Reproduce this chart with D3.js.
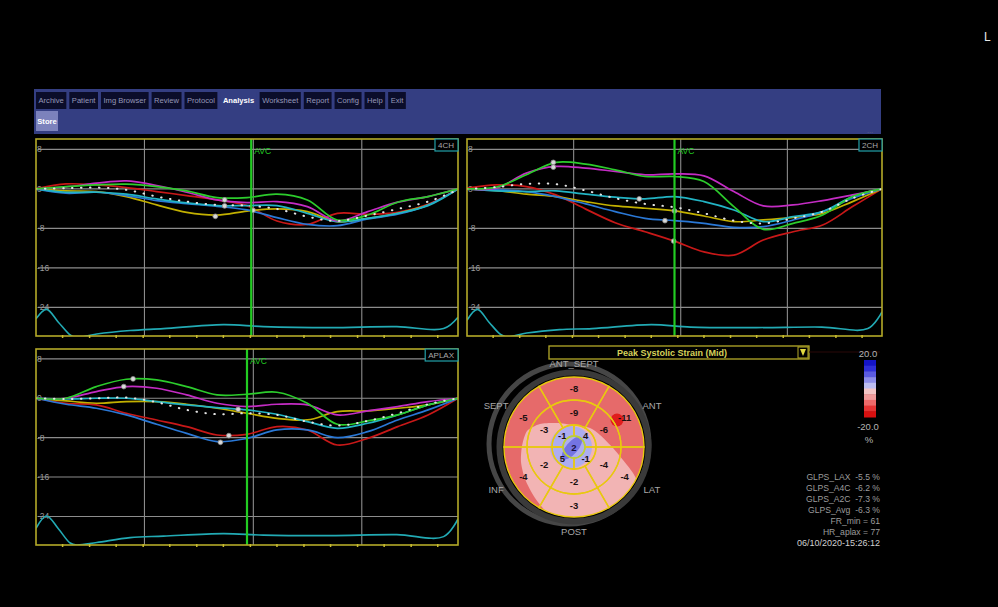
<!DOCTYPE html>
<html><head><meta charset="utf-8">
<script src="https://cdn.jsdelivr.net/npm/d3@7"></script>
<style>body{margin:0;background:#000;overflow:hidden} svg{display:block}</style>
</head><body><svg id="c" width="998" height="607"></svg>
<script>
// ---------- DATA ----------
const tabLabels = ["Archive","Patient","Img Browser","Review","Protocol","Analysis","Worksheet","Report","Config","Help","Exit"];
const activeTab = "Analysis";
const yTicks = [8, 0, -8, -16, -24];
const yTickLabels = ["8", "0", "-8", "-16", "-24"];
const gridTimes = [0.257, 0.515, 0.772];
const tickTimes = [0.063,0.127,0.19,0.254,0.317,0.381,0.444,0.508,0.571,0.635,0.698,0.762,0.825,0.889,0.952];
const timeGrid = [0,0.071,0.143,0.214,0.286,0.357,0.429,0.5,0.571,0.643,0.714,0.786,0.857,0.929,1];
const traceTimes = [0,0.025,0.053,0.081,0.096,0.144,0.223,0.302,0.444,0.539,0.697,0.855,0.966,1];

// 4CH
const ch4Red     = [0,1.0,0.8,0.27,-0.54,-1.36,-2.24,-3.4,-6.5,-7.2,-4.95,-5.15,-4.75,-3.1,0];
const ch4Yellow  = [0,-0.4,-0.54,-1.56,-3.25,-4.75,-5.3,-4.5,-4.07,-4.6,-6.64,-5.97,-4.95,-3.25,0];
const ch4Green   = [0,0.47,0.81,0.95,0.47,-0.41,-1.76,-1.76,-1.08,-2.24,-6.3,-5.3,-2.7,-1.56,0];
const ch4Magenta = [0,0.4,1.15,1.63,0.68,-0.68,-2.24,-2.78,-2.58,-3.6,-6.5,-4.6,-2.7,-1.56,0];
const ch4Cyan    = [0,-0.68,-0.68,-1.08,-2.03,-2.85,-3.39,-3.39,-3.39,-4.95,-6.64,-5.97,-4.95,-3.39,0];
const ch4Blue    = [0,-0.88,-0.68,-1.36,-2.37,-2.98,-3.53,-4.27,-5.83,-7.19,-7.46,-6.1,-5.15,-3.25,0];
const ch4Avg     = [0,0.14,0.27,-0.2,-1.56,-2.58,-3.25,-3.39,-4.07,-5.63,-6.5,-5.4,-4.07,-2.58,-0.2];
const ch4Trace   = [-26.3,-24.4,-27.0,-29.6,-30.1,-29.4,-28.7,-28.3,-27.5,-27.9,-28.1,-27.9,-28.3,-26.0];
const ch4Markers = [[0.447,-2.24],[0.447,-3.46],[0.425,-5.56],[0.514,-4.34]];
const ch4Avc = 0.51;

// 2CH
const ch2Red     = [0.14,0.81,0.47,-1.22,-4.1,-6.85,-8.68,-10.58,-12.75,-13.42,-10.37,-8.68,-7.32,-3.59,0];
const ch2Yellow  = [0,-0.34,-1.08,-1.56,-2.58,-3.46,-3.93,-4.47,-5.5,-6.64,-6.3,-5.76,-4.95,-2.58,0];
const ch2Green   = [0,0.34,2.85,5.36,5.02,3.86,2.51,2.51,1.49,-3.59,-8.2,-6.98,-5.29,-1.56,0];
const ch2Magenta = [0,0.14,3.19,4.54,4.2,3.53,2.85,3.05,2.64,-0.54,-3.46,-3.25,-2.37,-1.22,0];
const ch2Cyan    = [0,-0.4,-0.54,-0.4,-1.08,-1.69,-2.03,-1.56,-2.58,-4.27,-6.64,-5.63,-4.61,-1.56,0];
const ch2Blue    = [0,-0.2,-0.54,-1.56,-3.05,-4.61,-5.97,-6.44,-6.98,-7.8,-7.66,-6.3,-4.61,-1.9,0];
const ch2Avg     = [0,0.34,1.02,0.95,-0.34,-1.9,-3.05,-3.73,-4.95,-6.44,-6.98,-5.97,-4.61,-1.9,0];
const ch2Trace   = [-26.6,-24.4,-27.0,-29.5,-30.0,-29.2,-28.5,-28.3,-27.5,-28.0,-28.1,-28.0,-28.3,-24.9];
const ch2Markers = [[0.208,5.36],[0.208,4.4],[0.415,-2.03],[0.477,-6.44],[0.5,-4.47],[0.498,-10.58]];
const ch2Avc = 0.5;

// APLAX
const lxRed      = [0,-1.02,-1.36,-3.05,-4.41,-5.76,-7.46,-7.32,-5.76,-6.44,-9.49,-8.14,-5.76,-3.39,0];
const lxYellow   = [0,-0.54,-1.02,-0.68,-0.68,-1.22,-2.03,-3.05,-4.07,-4.41,-2.71,-2.58,-2.03,-1.36,0];
const lxGreen    = [0,0,2.37,3.86,3.73,2.37,0.68,0.81,1.22,-1.02,-5.29,-4.61,-3.39,-1.36,0];
const lxMagenta  = [0,0,1.36,2.37,2.03,0.68,-1.02,-1.69,-1.22,-1.36,-3.39,-2.58,-1.69,-0.68,0];
const lxCyan     = [0,-0.14,0,0,-0.68,-1.36,-1.9,-2.37,-3.25,-4.75,-6.1,-5.08,-3.39,-1.36,0];
const lxBlue     = [0,-1.22,-2.03,-3.39,-5.29,-7.12,-8.81,-8.14,-6.44,-6.44,-8.0,-6.78,-4.41,-2.37,0];
const lxAvg      = [0,-0.14,0,0.14,-0.81,-2.37,-3.25,-3.05,-3.39,-4.75,-5.56,-4.61,-3.05,-1.22,0];
const lxTrace    = [-26.4,-23.9,-26.5,-29.4,-29.8,-29.3,-28.3,-28.0,-27.5,-27.8,-27.9,-27.7,-28.1,-24.5];
const lxMarkers  = [[0.23,3.93],[0.208,2.37],[0.457,-7.59],[0.437,-8.95],[0.479,-2.24]];
const lxAvc = 0.5;

// Bullseye (Peak Systolic Strain)
const segmentNames = ["ANT_SEPT","ANT","LAT","POST","INF","SEPT"];
const basalValues  = [-8,-11,-4,-3,-4,-5];
const midValues    = [-9,-6,-4,-2,-2,-3];
const apicalValues = [4,-1,5,-1];
const apexValue    = 2;
const colorbarColors = ["#1414c8","#2e2ed8","#5a5ae0","#8c8ce8","#bcbcf0","#f2c4c4","#f09a9a","#ec6a6a","#e43434","#d81010"];
const statLines = ["GLPS_LAX  -5.5 %","GLPS_A4C  -6.2 %","GLPS_A2C  -7.3 %","GLPS_Avg  -6.3 %","FR_min = 61","HR_aplax = 77"];
const timestamp = "06/10/2020-15:26:12";

// ---------- DRAW ----------
const svg = d3.select("#c");
svg.append("rect").attr("width",998).attr("height",607).attr("fill","#000");
svg.append("text").attr("x",984).attr("y",41).attr("fill","#e8e8e8")
  .attr("font-family","Liberation Sans, Arial").attr("font-size",12).text("L");

// header bar
const bar = svg.append("g");
bar.append("rect").attr("x",34).attr("y",89).attr("width",847).attr("height",45).attr("fill","#343e82");
let tx = 36;
tabLabels.forEach(lbl => {
  const g = bar.append("g");
  const t = g.append("text").attr("y",103).attr("font-family","Liberation Sans, Arial")
    .attr("font-size",7.6).attr("font-weight", lbl===activeTab?"bold":"normal")
    .attr("fill", lbl===activeTab?"#ffffff":"#9698b8").text(lbl);
  const w = t.node().getComputedTextLength();
  const bw = w + 5;
  g.insert("rect","text").attr("x",tx).attr("y",92).attr("width",bw).attr("height",17)
    .attr("fill", lbl===activeTab?"#343e82":"#0b0d2a");
  t.attr("x", tx + 2.5);
  tx += bw + 3;
});
bar.append("rect").attr("x",36).attr("y",111).attr("width",22).attr("height",20).attr("fill","#7c82bc");
bar.append("text").attr("x",47).attr("y",124).attr("text-anchor","middle").attr("font-family","Liberation Sans, Arial")
  .attr("font-size",7.6).attr("font-weight","bold").attr("fill","#fff").text("Store");

const seriesColors = {red:"#c81818", yellow:"#c2b000", green:"#2ccc2c", magenta:"#c42cc4", cyan:"#22b4c4", blue:"#2a78d6"};

function drawPanel(cfg){
  const x = d3.scaleLinear().domain([0,1]).range([cfg.x0,cfg.x1]);
  const y = d3.scaleLinear().domain(cfg.ydom).range([cfg.y0,cfg.y1]);
  const g = svg.append("g");
  const cid = "clip"+cfg.id;
  svg.append("defs").append("clipPath").attr("id",cid).append("rect")
    .attr("x",cfg.x0).attr("y",cfg.y0).attr("width",cfg.x1-cfg.x0).attr("height",cfg.y1-cfg.y0);
  g.selectAll(".hg").data(yTicks).join("line")
    .attr("x1",cfg.x0+2).attr("x2",cfg.x1).attr("y1",d=>y(d)).attr("y2",d=>y(d))
    .attr("stroke","#8c8c8c").attr("stroke-width",1.1);
  g.selectAll(".vg").data(gridTimes).join("line")
    .attr("x1",d=>x(d)).attr("x2",d=>x(d)).attr("y1",cfg.y0).attr("y2",cfg.y1)
    .attr("stroke","#8c8c8c").attr("stroke-width",1.1);
  g.selectAll(".yl").data(yTicks).join("text")
    .attr("x",cfg.x0+1).attr("y",d=>y(d)+3).attr("fill","#9a9a9a")
    .attr("font-family","Liberation Sans, Arial").attr("font-size",8.5)
    .text((d,i)=>yTickLabels[i]);
  const cg = g.append("g").attr("clip-path",`url(#${cid})`);
  const line = d3.line().x((d,i)=>x(timeGrid[i])).y(d=>y(d)).curve(d3.curveCatmullRom.alpha(0.5));
  const tline = d3.line().x((d,i)=>x(traceTimes[i])).y(d=>y(d)).curve(d3.curveCatmullRom.alpha(0.5));
  cg.append("path").attr("d",tline(cfg.trace)).attr("fill","none").attr("stroke","#22aab4").attr("stroke-width",1.6);
  cfg.series.forEach(s=>{
    cg.append("path").attr("d",line(s.v)).attr("fill","none")
      .attr("stroke",seriesColors[s.c]).attr("stroke-width",1.7);
  });
  cg.append("path").attr("d",line(cfg.avg)).attr("fill","none").attr("stroke","#e4e4e4")
    .attr("stroke-width",2).attr("stroke-linecap","round").attr("stroke-dasharray","0.5,8.5");
  g.append("line").attr("x1",x(cfg.avc)).attr("x2",x(cfg.avc)).attr("y1",cfg.y0).attr("y2",cfg.y1)
    .attr("stroke","#22cc22").attr("stroke-width",2.2);
  g.append("text").attr("x",x(cfg.avc)+3).attr("y",cfg.y0+15).attr("fill","#22cc22")
    .attr("font-family","Liberation Sans, Arial").attr("font-size",8.5).text("AVC");
  cg.selectAll(".mk").data(cfg.markers).join("circle")
    .attr("cx",d=>x(d[0])).attr("cy",d=>y(d[1])).attr("r",2.4)
    .attr("fill","#d8d8d8").attr("stroke","#8a8a8a").attr("stroke-width",0.8);
  g.append("rect").attr("x",cfg.x0).attr("y",cfg.y0).attr("width",cfg.x1-cfg.x0).attr("height",cfg.y1-cfg.y0)
    .attr("fill","none").attr("stroke","#b4aa28").attr("stroke-width",1.6);
  g.selectAll(".tk").data(tickTimes).join("line")
    .attr("x1",d=>x(d)).attr("x2",d=>x(d)).attr("y1",cfg.y1-1).attr("y2",cfg.y1+2)
    .attr("stroke","#c8bc30").attr("stroke-width",1.5);
  const lg = g.append("g");
  const lt = lg.append("text").attr("y",cfg.y0+9).attr("fill","#a8a8a8")
    .attr("font-family","Liberation Sans, Arial").attr("font-size",8).text(cfg.label);
  const lw = lt.node().getComputedTextLength();
  lt.attr("x",cfg.x1-lw-4);
  lg.insert("rect","text").attr("x",cfg.x1-lw-7).attr("y",cfg.y0).attr("width",lw+7).attr("height",12)
    .attr("fill","#000").attr("stroke","#22a0a8").attr("stroke-width",1.2);
}

function mk(r,yl,g,m,c,b){return [{c:"red",v:r},{c:"yellow",v:yl},{c:"blue",v:b},{c:"cyan",v:c},{c:"magenta",v:m},{c:"green",v:g}];}

drawPanel({id:1,x0:36,x1:458,y0:139,y1:336,ydom:[10.1,-29.8],label:"4CH",avc:ch4Avc,
  series:mk(ch4Red,ch4Yellow,ch4Green,ch4Magenta,ch4Cyan,ch4Blue),avg:ch4Avg,trace:ch4Trace,markers:ch4Markers});
drawPanel({id:2,x0:467,x1:882,y0:139,y1:336,ydom:[10.1,-29.8],label:"2CH",avc:ch2Avc,
  series:mk(ch2Red,ch2Yellow,ch2Green,ch2Magenta,ch2Cyan,ch2Blue),avg:ch2Avg,trace:ch2Trace,markers:ch2Markers});
drawPanel({id:3,x0:36,x1:458,y0:349,y1:545,ydom:[10,-29.8],label:"APLAX",avc:lxAvc,
  series:mk(lxRed,lxYellow,lxGreen,lxMagenta,lxCyan,lxBlue),avg:lxAvg,trace:lxTrace,markers:lxMarkers});
svg.append("text").attr("x",870).attr("y",134).attr("text-anchor","middle").attr("fill","#888")
  .attr("font-size",6).attr("font-family","Liberation Sans, Arial").text("···");

// dropdown
svg.append("rect").attr("x",549).attr("y",346).attr("width",260).attr("height",13)
  .attr("fill","#000").attr("stroke","#b4aa28").attr("stroke-width",1.3);
svg.append("text").attr("x",672).attr("y",356).attr("text-anchor","middle").attr("fill","#d6d25a")
  .attr("font-family","Liberation Sans, Arial").attr("font-size",9).attr("font-weight","bold")
  .text("Peak Systolic Strain (Mid)");
svg.append("rect").attr("x",798).attr("y",347).attr("width",10).attr("height",11).attr("fill","#000")
  .attr("stroke","#b4aa28");
svg.append("path").attr("d","M800,349 L806,349 L803,356 Z").attr("fill","#e0d840");
svg.append("line").attr("x1",809).attr("x2",880).attr("y1",352).attr("y2",352).attr("stroke","#2a0808");

// bullseye
const cx = 574, cy = 447;
const R = {outer:70, mid:47, api:22, apex:11};
const be = svg.append("g").attr("transform",`translate(${cx},${cy})`);
be.append("circle").attr("cx",-5).attr("cy",-3).attr("r",80).attr("fill","none").attr("stroke","#464646").attr("stroke-width",5);
be.append("circle").attr("r",74.5).attr("fill","none").attr("stroke","#3a3a3a").attr("stroke-width",6);
svg.append("defs").append("clipPath").attr("id","disc").append("circle").attr("cx",cx).attr("cy",cy).attr("r",R.outer);
const fillG = svg.append("g").attr("clip-path","url(#disc)");
fillG.append("circle").attr("cx",cx).attr("cy",cy).attr("r",R.outer).attr("fill","#e66a6a");
const pinkPts = [[522,446],[527,431],[540,424],[557,423],[573,425],[590,428],[600,435],[613,448],[623,460],[633,473],[642,490],[652,512],[612,532],[570,532],[550,516],[535,498],[525,479],[521,462]];
fillG.append("path").attr("d",d3.line().curve(d3.curveCardinalClosed.tension(0.3))(pinkPts)).attr("fill","#f2b4b4");
fillG.append("circle").attr("cx",cx-3).attr("cy",cy).attr("r",21).attr("fill","#adadf0");
fillG.append("ellipse").attr("cx",cx-2).attr("cy",cy+1).attr("rx",14).attr("ry",6)
  .attr("transform",`rotate(-50 ${cx-2} ${cy+1})`).attr("fill","#7474e2");
fillG.append("circle").attr("cx",617).attr("cy",420).attr("r",6.5).attr("fill","#e01c1c");

const deg = Math.PI/180;
const arc = d3.arc();
const ringG = svg.append("g").attr("transform",`translate(${cx},${cy})`);
function ring(vals, r0, r1, n, offset){
  const step = 360/n;
  vals.forEach((v,i)=>{
    const a0 = (offset + i*step - step/2)*deg, a1 = (offset + i*step + step/2)*deg;
    const spec = {innerRadius:r0, outerRadius:r1, startAngle:a0, endAngle:a1};
    ringG.append("path").attr("d",arc(spec)).attr("fill","none").attr("stroke","#e8c810").attr("stroke-width",1.4);
    const c = arc.centroid(spec);
    ringG.append("text").attr("x",c[0]).attr("y",c[1]+3.5).attr("text-anchor","middle")
      .attr("font-family","Liberation Sans, Arial").attr("font-size",9.5).attr("font-weight","bold")
      .attr("fill","#1a1010").text(v);
  });
}
ring(basalValues, R.mid, R.outer, 6, 0);
ring(midValues, R.api, R.mid, 6, 0);
ring(apicalValues, R.apex, R.api, 4, 45);
ringG.append("circle").attr("r",R.apex).attr("fill","none").attr("stroke","#b4d040").attr("stroke-width",1.4);
ringG.append("text").attr("y",3.5).attr("text-anchor","middle").attr("font-family","Liberation Sans, Arial")
  .attr("font-size",9.5).attr("font-weight","bold").attr("fill","#1a1040").text(apexValue);
segmentNames.forEach((n,i)=>{
  const a = i*60*deg;
  ringG.append("text").attr("x",90*Math.sin(a)).attr("y",-84*Math.cos(a)+3.5).attr("text-anchor","middle")
    .attr("font-family","Liberation Sans, Arial").attr("font-size",9.5).attr("fill","#a8a8a8").text(n);
});

// colorbar
const cb = d3.scaleBand().domain(d3.range(colorbarColors.length)).range([360,417]);
svg.selectAll(".cb").data(colorbarColors).join("rect")
  .attr("x",864).attr("width",12).attr("y",(d,i)=>cb(i)).attr("height",cb.bandwidth()+0.5).attr("fill",d=>d);
svg.append("text").attr("x",868).attr("y",357).attr("text-anchor","middle").attr("fill","#b4b4b4")
  .attr("font-family","Liberation Sans, Arial").attr("font-size",9.5).text("20.0");
svg.append("text").attr("x",868).attr("y",430).attr("text-anchor","middle").attr("fill","#b4b4b4")
  .attr("font-family","Liberation Sans, Arial").attr("font-size",9.5).text("-20.0");
svg.append("text").attr("x",869).attr("y",443).attr("text-anchor","middle").attr("fill","#b4b4b4")
  .attr("font-family","Liberation Sans, Arial").attr("font-size",9.5).text("%");

// stats
svg.selectAll(".st").data(statLines).join("text")
  .attr("x",880).attr("y",(d,i)=>480+i*11).attr("text-anchor","end").attr("fill","#9c9c9c")
  .attr("font-family","Liberation Sans, Arial").attr("font-size",8.6).attr("xml:space","preserve")
  .style("white-space","pre").text(d=>d);
svg.append("text").attr("x",880).attr("y",546).attr("text-anchor","end").attr("fill","#d0d0d0")
  .attr("font-family","Liberation Sans, Arial").attr("font-size",9).text(timestamp);
</script></body></html>
